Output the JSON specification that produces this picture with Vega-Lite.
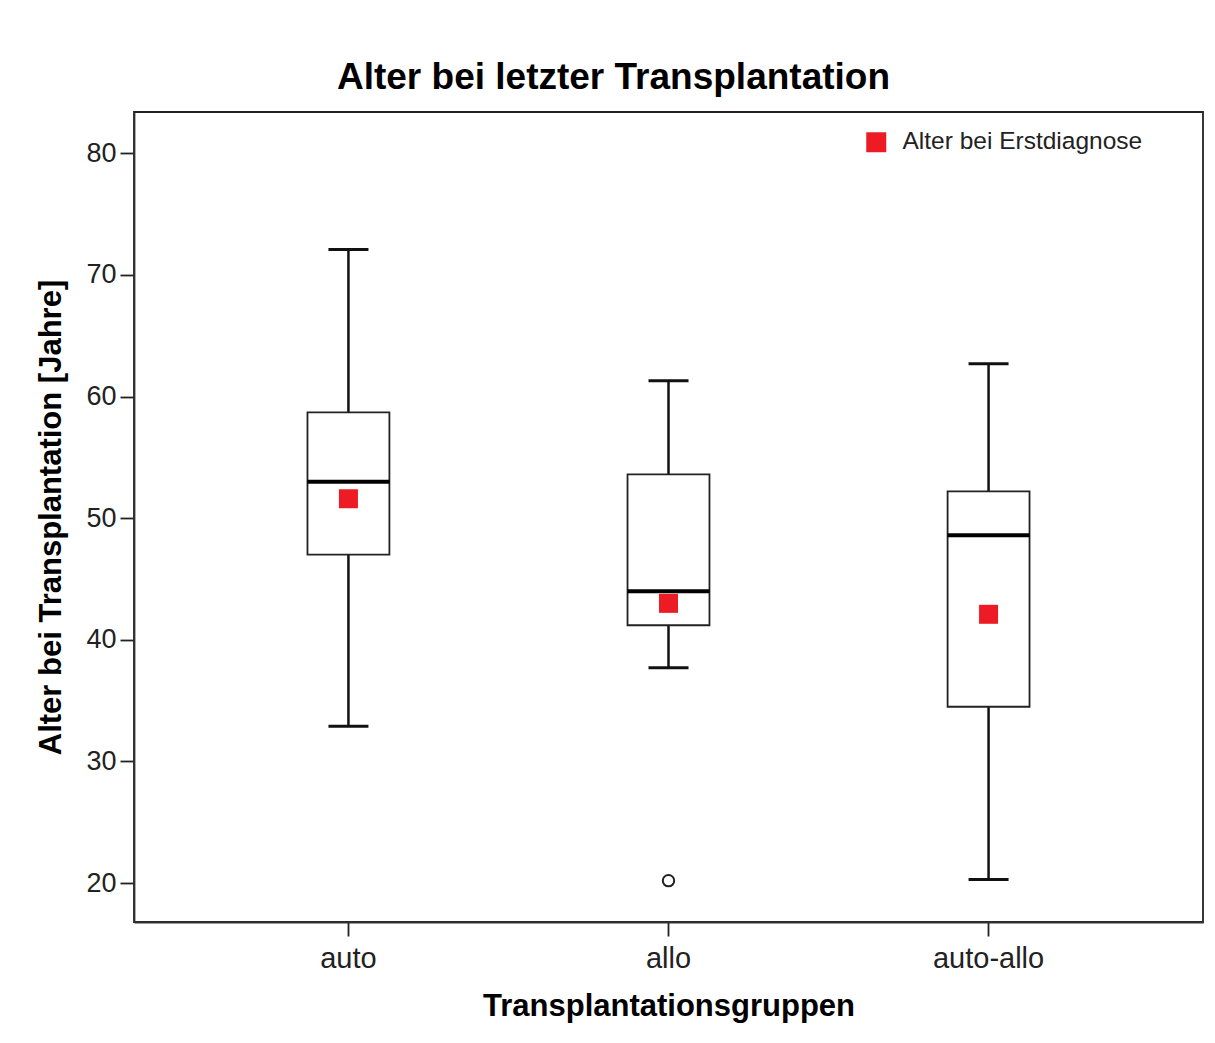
{
  "$schema": "https://vega.github.io/schema/vega-lite/v6.json",
  "width": 1069,
  "height": 810,
  "autosize": {"type": "none"},
  "padding": {"left": 134, "top": 112, "right": 12, "bottom": 121},
  "background": "white",
  "title": {
    "text": "Alter bei letzter Transplantation",
    "font": "Liberation Sans",
    "fontSize": 37,
    "fontWeight": "bold",
    "color": "black",
    "anchor": "middle",
    "frame": "group",
    "dx": -55,
    "offset": 15
  },
  "datasets": {
    "boxes": [
      {"gruppe": "auto", "min": 32.9, "q1": 47.0, "median": 53.0, "q3": 58.7, "max": 72.1, "erstdiagnose": 51.6},
      {"gruppe": "allo", "min": 37.7, "q1": 41.2, "median": 44.0, "q3": 53.6, "max": 61.3, "erstdiagnose": 43.0},
      {"gruppe": "auto-allo", "min": 20.3, "q1": 34.5, "median": 48.6, "q3": 52.2, "max": 62.7, "erstdiagnose": 42.1}
    ],
    "ausreisser": [
      {"gruppe": "allo", "alter": 20.2}
    ]
  },
  "data": {"name": "boxes"},
  "encoding": {
    "x": {
      "field": "gruppe",
      "type": "nominal",
      "sort": ["auto", "allo", "auto-allo"],
      "scale": {"type": "band", "paddingInner": 0.744, "paddingOuter": 0.542},
      "axis": {
        "title": "Transplantationsgruppen",
        "labelAngle": 0,
        "labelPadding": 8,
        "labelFontSize": 29,
        "titlePadding": 18
      }
    }
  },
  "layer": [
    {
      "mark": {"type": "rule", "color": "#111", "strokeWidth": 2.5},
      "encoding": {
        "y": {
          "field": "min",
          "type": "quantitative",
          "scale": {"domain": [16.8, 83.4], "nice": false, "zero": false},
          "axis": {
            "title": "Alter bei Transplantation [Jahre]",
            "values": [20, 30, 40, 50, 60, 70, 80],
            "grid": false,
            "labelPadding": 4,
            "titlePadding": 18
          }
        },
        "y2": {"field": "max"}
      }
    },
    {
      "mark": {"type": "tick", "color": "#111", "size": 40, "thickness": 3, "orient": "horizontal", "opacity": 1},
      "encoding": {"y": {"field": "min", "type": "quantitative"}}
    },
    {
      "mark": {"type": "tick", "color": "#111", "size": 40, "thickness": 3, "orient": "horizontal", "opacity": 1},
      "encoding": {"y": {"field": "max", "type": "quantitative"}}
    },
    {
      "mark": {"type": "bar", "fill": "white", "stroke": "#222", "strokeWidth": 1.8},
      "encoding": {
        "y": {"field": "q1", "type": "quantitative"},
        "y2": {"field": "q3"}
      }
    },
    {
      "mark": {"type": "tick", "color": "#000", "size": 82, "thickness": 4, "orient": "horizontal", "opacity": 1},
      "encoding": {"y": {"field": "median", "type": "quantitative"}}
    },
    {
      "mark": {"type": "point", "shape": "square", "filled": true, "size": 361, "opacity": 1},
      "encoding": {
        "y": {"field": "erstdiagnose", "type": "quantitative"},
        "color": {
          "datum": "Alter bei Erstdiagnose",
          "type": "nominal",
          "scale": {"range": ["#ED1C24"]},
          "legend": {
            "title": null,
            "orient": "none",
            "legendX": 730,
            "legendY": 18,
            "symbolType": "square",
            "symbolSize": 400,
            "symbolStrokeWidth": 0,
            "symbolOpacity": 1,
            "labelFont": "Liberation Sans",
            "labelFontSize": 24.5,
            "labelColor": "#222",
            "labelOffset": 14,
            "labelLimit": 500
          }
        }
      }
    },
    {
      "data": {"name": "ausreisser"},
      "mark": {"type": "point", "shape": "circle", "filled": false, "size": 130, "stroke": "#222", "strokeWidth": 2, "opacity": 1},
      "encoding": {"y": {"field": "alter", "type": "quantitative"}}
    }
  ],
  "config": {
    "view": {"stroke": "#222", "strokeWidth": 1.8},
    "axis": {
      "labelFont": "Liberation Sans",
      "labelFontSize": 27,
      "labelColor": "#222",
      "titleFont": "Liberation Sans",
      "titleFontSize": 31,
      "titleFontWeight": "bold",
      "titleColor": "#000",
      "domainColor": "#333",
      "domainWidth": 1.8,
      "tickColor": "#222",
      "tickWidth": 1.8,
      "tickSize": 14
    }
  }
}
